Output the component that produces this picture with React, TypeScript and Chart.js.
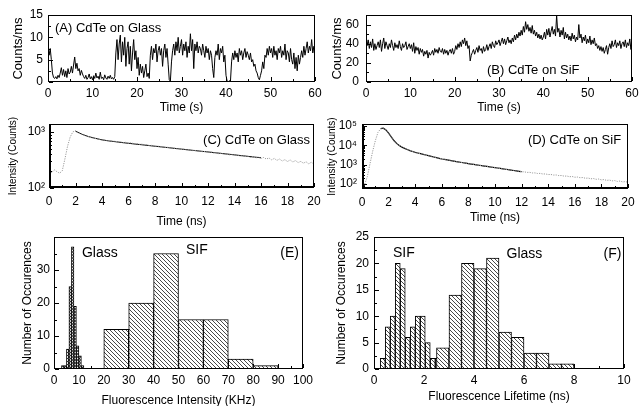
import React, { useEffect, useRef } from 'react';
import { Chart, registerables } from 'chart.js';

Chart.register(...registerables);

const FONT = '"Liberation Sans", Arial, Helvetica, sans-serif';

// ---------- (A) / (B) single-dot intensity traces, one value every 0.25 s ----------
const traceStepS = 0.25;
const glassTraceCounts = [
  8, 6, 7.5, 5, 2, 1.0, 0.8, 1.2, 0.7, 1.5, 1.0, 2.0, 3.2, 1.5, 2.8, 1.2,
  2.5, 1.0, 3.0, 1.8, 2.2, 3.5, 2.0, 3.8, 5.6, 3.0, 4.2, 2.5, 3.0, 1.5, 2.6, 1.8,
  1.2, 0.8, 1.5, 0.6, 1.0, 1.8, 0.7, 1.2, 0.5, 1.4, 0.8, 2.0, 0.9, 1.3, 0.6, 2.2,
  0.8, 1.1, 0.5, 1.6, 0.9, 0.6, 1.3, 0.8, 1.5, 0.7, 1.0, 0.6, 1.2, 6.5, 9.5, 5.0,
  8.5, 10.5, 4.5, 9.0, 6.0, 10.0, 3.5, 7.5, 9.0, 4.0, 8.0, 2.5, 6.5, 9.5, 5.0, 7.0,
  3.0, 5.5, 1.5, 4.0, 2.0, 3.5, 1.0, 2.5, 4.0, 1.2, 2.0, 0.8, 6.0, 8.0, 5.0, 7.5,
  6.5, 8.5, 4.5, 7.0, 8.0, 6.0, 7.5, 3.5, 7.0, 8.5, 5.5, 7.5, 4.0, 0.5, 0.2, 4.5,
  7.0, 8.5, 6.0, 9.0, 7.0, 10.0, 6.5, 8.0, 9.5, 6.0, 8.5, 7.0, 9.0, 5.5, 8.0, 6.5,
  10.8, 7.0, 9.5, 3.0, 8.5, 7.0, 9.0, 6.5, 8.0, 7.5, 6.0, 8.5, 7.0, 5.5, 8.0, 6.5,
  7.5, 5.0, 7.0, 6.0, 3.0, 1.0, 5.5, 7.0, 6.0, 8.5, 5.0, 7.5, 6.5, 8.0, 4.5, 6.0,
  1.5, 0.2, 0.0, 0.3, 0.1, 4.5, 6.5, 5.0, 7.0, 5.5, 6.5, 4.5, 7.5, 6.0, 7.0, 5.0,
  6.5, 7.5, 5.5, 6.8, 6.0, 5.0, 6.5, 4.5, 5.0, 3.5, 4.0, 2.5, 2.0, 1.0, 0.5, 1.5,
  2.5, 4.5, 3.0, 6.0, 5.5, 7.5, 6.0, 8.0, 6.5, 7.5, 5.5, 8.0, 6.0, 7.0, 5.0, 7.5,
  6.5, 8.0, 5.5, 7.0, 6.0, 8.5, 5.0, 7.0, 6.5, 4.5, 7.5, 5.0, 4.0, 6.5, 3.0, 5.5,
  2.5, 6.0, 4.0, 5.5, 7.0, 5.5, 8.0, 6.0, 7.5, 9.0, 6.5, 8.0, 7.0, 9.5, 6.5, 8.0,
  5.0,
];
const sifTraceCounts = [
  50, 38, 44, 35, 42, 36, 45, 33, 40, 34, 38, 42, 36, 44, 32, 40,
  46, 35, 42, 38, 34, 40, 36, 44, 38, 33, 41, 36, 39, 35, 43, 37,
  33, 40, 36, 38, 42, 34, 37, 40, 35, 39, 32, 41, 30, 37, 33, 36,
  29, 35, 31, 34, 27, 32, 29, 33, 25, 31, 28, 30, 33, 28, 35, 31,
  34, 30, 36, 32, 31, 35, 29, 34, 30, 33, 28, 32, 34, 30, 35, 29,
  32, 38, 34, 40, 36, 42, 37, 44, 40, 46, 38, 43, 35, 38, 22, 28,
  31, 34, 29, 33, 36, 31, 38, 33, 35, 30, 37, 32, 34, 39, 33, 37,
  40, 35, 42, 38, 36, 43, 39, 41, 44, 38, 42, 46, 40, 45, 39, 43,
  47, 41, 44, 40, 46, 42, 49, 44, 50, 46, 52, 48, 54, 49, 58, 52,
  63, 55, 60, 53, 57, 51, 59, 50, 54, 48, 52, 46, 50, 45, 49, 44,
  47, 52, 45, 55, 49, 56, 47, 53, 58, 50, 55, 48, 70, 52, 56, 47,
  54, 49, 57, 45, 52, 46, 50, 44, 48, 43, 51, 45, 49, 42, 47, 44,
  60, 46, 50, 41, 47, 43, 49, 40, 45, 41, 48, 39, 44, 40, 46, 38,
  40, 35, 38, 33, 37, 32, 36, 30, 34, 38, 29, 36, 40, 35, 43, 37,
  39, 44, 36, 41, 38, 43, 35, 40, 42, 37, 44, 36, 41, 38, 45, 34,
  40,
];
const traceTimeTicks = [0, 10, 20, 30, 40, 50, 60];
const glassTraceTicks = [0, 5, 10, 15];
const sifTraceTicks = [0, 20, 40, 60];

// ---------- (C) / (D) lifetime decays, raw every 0.2 ns ----------
const decayStepNs = 0.2;
const glassDecayRaw = [
  205, 188, 212, 196, 184, 203, 330, 560, 820, 1010,
  1060, 990, 925, 890, 845, 830, 790, 785, 752, 740,
  715, 722, 700, 705, 684, 690, 668, 672, 650, 658,
  636, 645, 622, 628, 606, 612, 590, 598, 575, 582,
  556, 565, 545, 552, 530, 537, 515, 524, 503, 510,
  490, 498, 478, 486, 466, 474, 455, 463, 446, 452,
  436, 445, 424, 432, 412, 421, 402, 410, 392, 400,
  384, 392, 372, 381, 366, 372, 352, 366, 345, 358,
  338, 352, 330, 345, 320, 338, 312, 330, 305, 322,
  298, 318, 292, 310, 285, 300, 278, 295, 270, 290,
  265,
];
const glassFitStartNs = 2.0;
const glassFitStepNs = 0.5;
const glassFitValues = [
  1040, 915, 830, 775, 728, 698, 675, 652, 632, 612, 595, 577, 560, 544, 528,
  512, 497, 482, 468, 455, 442, 429, 416, 404, 392, 380, 369, 358, 348,
];
const sifDecayRaw = [
  62, 95, 240, 1100, 4800, 17000, 46000, 71000, 75000, 61000,
  41000, 27500, 17000, 12800, 9600, 8100, 6800, 6100, 5200, 4800,
  4250, 4000, 3620, 3420, 3090, 2930, 2650, 2500, 2260, 2130,
  1930, 1860, 1725, 1665, 1545, 1490, 1380, 1335, 1235, 1195,
  1105, 1080, 1005, 985, 915, 895, 832, 815, 758, 742,
  690, 675, 625, 612, 566, 556, 514, 505, 465, 458,
  423, 424, 396, 398, 371, 374, 348, 352, 327, 330,
  306, 310, 288, 292, 270, 274, 253, 258, 237, 243,
  223, 228, 210, 215, 197, 203, 185, 191, 174, 180,
  163, 169, 153, 160, 144, 150, 135, 142, 127, 133,
  120,
];
const sifFitStartNs = 1.4;
const sifFitStepNs = 0.2;
const sifFitValues = [
  72000, 76000, 62000, 42000, 27000, 17500, 12500, 9800, 8000, 6900,
  6000, 5300, 4750, 4300, 3970, 3670, 3390, 3130, 2900, 2680,
  2480, 2290, 2110, 1950, 1845, 1745, 1650, 1560, 1475, 1395,
  1320, 1250, 1183, 1120, 1068, 1019, 972, 927, 885, 844,
  805, 768, 733, 700, 666, 634, 604, 575, 548, 522,
  497, 473, 451, 430,
];
const decayTimeTicks = [0, 2, 4, 6, 8, 10, 12, 14, 16, 18, 20];
const glassDecayTicks = [100, 1000];
const sifDecayTicks = [100, 1000, 10000, 100000];

// ---------- (E) intensity histograms ----------
const eSifBinCenters = [25, 35, 45, 55, 65, 75, 85];
const eSifCounts = [12, 20, 35, 15, 15, 3, 1];
const eGlassBinCenters = [3.5, 4.5, 5.5, 6.5, 7.5, 8.5, 9.5, 10.5, 11.5];
const eGlassCounts = [1, 1, 6, 25, 37, 19, 7, 4, 1];
const eXTicks = [0, 10, 20, 30, 40, 50, 60, 70, 80, 90, 100];
const eYTicks = [0, 10, 20, 30];

// ---------- (F) lifetime histograms ----------
const fSifBinCenters = [0.35, 0.55, 0.75, 0.95, 1.15, 1.35, 1.55, 1.75, 1.95, 2.15, 2.35, 2.55];
const fSifCounts = [2, 8, 10, 20, 19, 6, 8, 10, 10, 5, 2, 2];
const fGlassBinCenters = [2.75, 3.25, 3.75, 4.25, 4.75, 5.25, 5.75, 6.25, 6.75, 7.25, 7.75];
const fGlassCounts = [4, 14, 20, 19, 21, 7, 6, 3, 3, 1, 1];
const fXTicks = [0, 2, 4, 6, 8, 10];
const fYTicks = [0, 5, 10, 15, 20, 25];

// ---------- helpers ----------
const SUP: Record<number, string> = { 1: '\u00B9', 2: '\u00B2', 3: '\u00B3', 4: '\u2074', 5: '\u2075' };

function linMinors(min: number, max: number, step: number, majors: number[]) {
  const out: number[] = [];
  for (let k = 0; min + k * step <= max + 1e-9; k++) {
    const v = Math.round((min + k * step) * 1000) / 1000;
    if (v > min && v < max && !majors.some((m) => Math.abs(m - v) < 1e-9)) out.push(v);
  }
  return out;
}
function logMinors(min: number, max: number) {
  const out: number[] = [];
  for (let e = Math.floor(Math.log10(min)); e <= Math.ceil(Math.log10(max)); e++) {
    for (let m = 2; m <= 9; m++) {
      const v = m * Math.pow(10, e);
      if (v > min && v < max) out.push(v);
    }
  }
  return out;
}
const series = (vals: number[], start: number, step: number) =>
  vals.map((v, i) => ({ x: Math.round((start + i * step) * 1000) / 1000, y: v }));
const bins = (centers: number[], counts: number[]) => centers.map((c, i) => ({ x: c, y: counts[i] }));

type Txt = { text: string; fx: number; fy: number; align: CanvasTextAlign; size: number };
type DecorCfg = {
  xMajor: number[]; xMinor: number[]; yMajor: number[]; yMinor: number[];
  texts: Txt[]; thick?: boolean;
};

function makeDecor(cfg: DecorCfg) {
  return {
    id: 'decor',
    beforeDatasetsDraw(chart: any) {
      const { ctx, chartArea: a, scales } = chart;
      ctx.save();
      ctx.strokeStyle = '#000';
      ctx.lineWidth = 1;
      ctx.beginPath();
      const vx = (v: number, len: number) => {
        const p = Math.round(scales.x.getPixelForValue(v)) + 0.5;
        ctx.moveTo(p, a.bottom - 1);
        ctx.lineTo(p, a.bottom - 1 - len);
      };
      const vy = (v: number, len: number) => {
        const p = Math.round(scales.y.getPixelForValue(v)) + 0.5;
        ctx.moveTo(a.left + 1, p);
        ctx.lineTo(a.left + 1 + len, p);
      };
      cfg.xMajor.forEach((v) => vx(v, 4));
      cfg.xMinor.forEach((v) => vx(v, 2));
      cfg.yMajor.forEach((v) => vy(v, 4));
      cfg.yMinor.forEach((v) => vy(v, 2));
      ctx.stroke();
      ctx.restore();
    },
    afterDatasetsDraw(chart: any) {
      const { ctx, chartArea: a } = chart;
      ctx.save();
      ctx.strokeStyle = '#000';
      ctx.lineWidth = 1;
      ctx.beginPath();
      ctx.moveTo(a.left, a.top + 0.5);
      ctx.lineTo(a.right, a.top + 0.5);
      ctx.moveTo(a.right - 0.5, a.top);
      ctx.lineTo(a.right - 0.5, a.bottom);
      ctx.stroke();
      const w = cfg.thick ? 2 : 1;
      ctx.lineWidth = w;
      ctx.beginPath();
      ctx.moveTo(a.left + w / 2, a.top);
      ctx.lineTo(a.left + w / 2, a.bottom);
      ctx.moveTo(a.left, a.bottom - w / 2);
      ctx.lineTo(a.right, a.bottom - w / 2);
      ctx.stroke();
      ctx.fillStyle = '#000';
      ctx.textBaseline = 'middle';
      for (const t of cfg.texts) {
        ctx.font = `${t.size}px ${FONT}`;
        ctx.textAlign = t.align;
        ctx.fillText(t.text, a.left + t.fx * (a.right - a.left), a.top + t.fy * (a.bottom - a.top));
      }
      ctx.restore();
    },
  };
}

function axisX(o: {
  min: number; max: number; ticks: number[]; pad: number; title: string;
  titleSize: number; titlePad: number; height: number;
}) {
  return {
    type: 'linear', min: o.min, max: o.max, offset: false,
    grid: { display: false, drawTicks: false }, border: { display: false },
    afterBuildTicks: (s: any) => { s.ticks = o.ticks.map((v) => ({ value: v })); },
    afterFit: (s: any) => { s.height = o.height; s.paddingLeft = 0; s.paddingRight = 0; },
    ticks: { autoSkip: false, maxRotation: 0, minRotation: 0, padding: o.pad, color: '#000', font: { family: FONT, size: 12 } },
    title: { display: true, text: o.title, color: '#000', font: { family: FONT, size: o.titleSize }, padding: { top: 0, bottom: o.titlePad } },
  };
}
function axisY(o: {
  min: number; max: number; ticks: number[]; pad: number; title: string;
  titleSize: number; titlePad: number; width: number; log?: boolean;
}) {
  const ax: any = {
    type: o.log ? 'logarithmic' : 'linear', min: o.min, max: o.max,
    grid: { display: false, drawTicks: false }, border: { display: false },
    afterBuildTicks: (s: any) => { s.ticks = o.ticks.map((v) => ({ value: v })); },
    afterFit: (s: any) => { s.width = o.width; s.paddingTop = 0; s.paddingBottom = 0; },
    ticks: { autoSkip: false, padding: o.pad, color: '#000', font: { family: FONT, size: 12 } },
    title: { display: true, text: o.title, color: '#000', font: { family: FONT, size: o.titleSize }, padding: { top: o.titlePad, bottom: 0 } },
  };
  if (o.log) ax.ticks.callback = (v: number) => '10' + SUP[Math.round(Math.log10(v))];
  return ax;
}
function baseOptions(padTop: number, padRight: number, scales: any) {
  return {
    responsive: false, animation: false, events: [],
    layout: { padding: { top: padTop, right: padRight, left: 0, bottom: 0 } },
    plugins: { legend: { display: false }, tooltip: { enabled: false } },
    scales,
  };
}

function makePattern(ctx: CanvasRenderingContext2D, size: number, cross: boolean, lw: number) {
  const c = document.createElement('canvas');
  c.width = size; c.height = size;
  const g = c.getContext('2d')!;
  g.fillStyle = '#fff';
  g.fillRect(0, 0, size, size);
  g.strokeStyle = '#1a1a1a';
  g.lineWidth = lw;
  g.beginPath();
  g.moveTo(-1, -1); g.lineTo(size + 1, size + 1);
  g.moveTo(-1, size - 1); g.lineTo(1, size + 1);
  g.moveTo(size - 1, -1); g.lineTo(size + 1, 1);
  if (cross) {
    g.moveTo(size + 1, -1); g.lineTo(-1, size + 1);
    g.moveTo(1, -1); g.lineTo(-1, 1);
    g.moveTo(size + 1, size - 1); g.lineTo(size - 1, size + 1);
  }
  g.stroke();
  return ctx.createPattern(c, 'repeat')!;
}

type Panel = { left: number; top: number; w: number; h: number; build: (cv: HTMLCanvasElement) => any };

const PANELS: Panel[] = [
  {
    left: 0, top: 0, w: 330, h: 118,
    build: () => ({
      type: 'scatter',
      data: { datasets: [{ data: series(glassTraceCounts, 0, traceStepS), showLine: true, borderColor: '#000', borderWidth: 1, pointRadius: 0 }] },
      options: baseOptions(15, 15, {
        x: axisX({ min: 0, max: 60, ticks: traceTimeTicks, pad: 4, title: 'Time (s)', titleSize: 12, titlePad: 2.8, height: 36 }),
        y: axisY({ min: 0, max: 15, ticks: glassTraceTicks, pad: 5, title: 'Counts/ms', titleSize: 13, titlePad: 10.2, width: 48 }),
      }),
      plugins: [makeDecor({
        xMajor: traceTimeTicks, xMinor: linMinors(0, 60, 5, traceTimeTicks),
        yMajor: glassTraceTicks, yMinor: linMinors(0, 15, 2.5, glassTraceTicks),
        texts: [{ text: '(A) CdTe on Glass', fx: 0.026, fy: 0.2, align: 'left', size: 13 }],
      })],
    }),
  },
  {
    left: 320, top: 0, w: 319, h: 118,
    build: () => ({
      type: 'scatter',
      data: { datasets: [{ data: series(sifTraceCounts, 0, traceStepS), showLine: true, borderColor: '#000', borderWidth: 1, pointRadius: 0 }] },
      options: baseOptions(15, 7, {
        x: axisX({ min: 0, max: 60, ticks: traceTimeTicks, pad: 4, title: 'Time (s)', titleSize: 12, titlePad: 2.8, height: 36 }),
        y: axisY({ min: 0, max: 70, ticks: sifTraceTicks, pad: 7, title: 'Counts/ms', titleSize: 13, titlePad: 9.2, width: 46 }),
      }),
      plugins: [makeDecor({
        xMajor: traceTimeTicks, xMinor: linMinors(0, 60, 5, traceTimeTicks),
        yMajor: sifTraceTicks, yMinor: linMinors(0, 70, 10, sifTraceTicks),
        texts: [{ text: '(B) CdTe on SiF', fx: 0.455, fy: 0.82, align: 'left', size: 13 }],
      })],
    }),
  },
  {
    left: 0, top: 112, w: 330, h: 120,
    build: () => ({
      type: 'scatter',
      data: {
        datasets: [
          { data: series(glassDecayRaw, 0, decayStepNs), showLine: true, borderColor: '#9a9a9a', borderWidth: 1, borderDash: [1.2, 1.2], pointRadius: 0 },
          { data: series(glassFitValues, glassFitStartNs, glassFitStepNs), showLine: true, borderColor: '#000', borderWidth: 1, pointRadius: 0 },
        ],
      },
      options: baseOptions(12, 16, {
        x: axisX({ min: 0, max: 20, ticks: decayTimeTicks, pad: 6, title: 'Time (ns)', titleSize: 12, titlePad: 2.8, height: 44 }),
        y: axisY({ min: 100, max: 1400, ticks: glassDecayTicks, pad: 4, title: 'Intensity (Counts)', titleSize: 10, titlePad: 7, width: 49, log: true }),
      }),
      plugins: [makeDecor({
        xMajor: decayTimeTicks, xMinor: linMinors(0, 20, 1, decayTimeTicks),
        yMajor: glassDecayTicks, yMinor: logMinors(100, 1400),
        texts: [{ text: '(C) CdTe on Glass', fx: 0.985, fy: 0.25, align: 'right', size: 13 }],
        thick: true,
      })],
    }),
  },
  {
    left: 320, top: 112, w: 319, h: 120,
    build: () => ({
      type: 'scatter',
      data: {
        datasets: [
          { data: series(sifDecayRaw, 0, decayStepNs), showLine: true, borderColor: '#9a9a9a', borderWidth: 1, borderDash: [1.2, 1.2], pointRadius: 0 },
          { data: series(sifFitValues, sifFitStartNs, sifFitStepNs), showLine: true, borderColor: '#000', borderWidth: 1.2, pointRadius: 0 },
        ],
      },
      options: baseOptions(12, 11, {
        x: axisX({ min: 0, max: 20, ticks: decayTimeTicks, pad: 6, title: 'Time (ns)', titleSize: 12, titlePad: 6.8, height: 43 }),
        y: axisY({ min: 55, max: 125000, ticks: sifDecayTicks, pad: 5, title: 'Intensity (Counts)', titleSize: 10, titlePad: 6, width: 42, log: true }),
      }),
      plugins: [makeDecor({
        xMajor: decayTimeTicks, xMinor: linMinors(0, 20, 1, decayTimeTicks),
        yMajor: sifDecayTicks, yMinor: logMinors(55, 125000),
        texts: [{ text: '(D) CdTe on SiF', fx: 0.974, fy: 0.25, align: 'right', size: 13 }],
        thick: true,
      })],
    }),
  },
  {
    left: 0, top: 228, w: 330, h: 178,
    build: (cv) => {
      const ctx = cv.getContext('2d')!;
      return {
        type: 'bar',
        data: {
          datasets: [
            { data: bins(eSifBinCenters, eSifCounts), xAxisID: 'x', backgroundColor: makePattern(ctx, 4, false, 0.8), borderColor: '#000', borderWidth: 1, barPercentage: 1, categoryPercentage: 1, grouped: false },
            { data: bins(eGlassBinCenters, eGlassCounts), xAxisID: 'x2', backgroundColor: makePattern(ctx, 3, true, 0.7), borderColor: '#000', borderWidth: 1, barPercentage: 1, categoryPercentage: 1, grouped: false },
          ],
        },
        options: baseOptions(9, 27, {
          x: axisX({ min: 0, max: 100, ticks: eXTicks, pad: 4, title: 'Fluorescence Intensity (KHz)', titleSize: 12, titlePad: -2.2, height: 37 }),
          x2: { type: 'linear', display: false, min: 0, max: 100, offset: false, ticks: { stepSize: 10 } },
          y: axisY({ min: 0, max: 40, ticks: eYTicks, pad: 4, title: 'Number of Occurences', titleSize: 12, titlePad: 20.8, width: 54 }),
        }),
        plugins: [makeDecor({
          xMajor: eXTicks, xMinor: linMinors(0, 100, 5, eXTicks),
          yMajor: eYTicks, yMinor: linMinors(0, 40, 5, eYTicks),
          texts: [
            { text: 'Glass', fx: 0.112, fy: 0.12, align: 'left', size: 14 },
            { text: 'SIF', fx: 0.53, fy: 0.1, align: 'left', size: 14 },
            { text: '(E)', fx: 0.984, fy: 0.12, align: 'right', size: 14 },
          ],
        })],
      };
    },
  },
  {
    left: 320, top: 228, w: 319, h: 178,
    build: (cv) => {
      const ctx = cv.getContext('2d')!;
      return {
        type: 'bar',
        data: {
          datasets: [
            { data: bins(fGlassBinCenters, fGlassCounts), xAxisID: 'x2', backgroundColor: makePattern(ctx, 4, false, 0.8), borderColor: '#000', borderWidth: 1, barPercentage: 1, categoryPercentage: 1, grouped: false },
            { data: bins(fSifBinCenters, fSifCounts), xAxisID: 'x', backgroundColor: makePattern(ctx, 4, false, 0.8), borderColor: '#000', borderWidth: 1, barPercentage: 1, categoryPercentage: 1, grouped: false },
          ],
        },
        options: baseOptions(9, 15, {
          x: axisX({ min: 0, max: 10, ticks: fXTicks, pad: 4, title: 'Fluorescence Lifetime (ns)', titleSize: 12, titlePad: 1.8, height: 37 }),
          x2: { type: 'linear', display: false, min: 0, max: 10, offset: false, ticks: { stepSize: 1 } },
          y: axisY({ min: 0, max: 25, ticks: fYTicks, pad: 5, title: 'Number of Occurences', titleSize: 12, titlePad: 14.8, width: 54 }),
        }),
        plugins: [makeDecor({
          xMajor: fXTicks, xMinor: linMinors(0, 10, 1, fXTicks),
          yMajor: fYTicks, yMinor: linMinors(0, 25, 2.5, fYTicks),
          texts: [
            { text: 'SIF', fx: 0.076, fy: 0.12, align: 'left', size: 14 },
            { text: 'Glass', fx: 0.53, fy: 0.13, align: 'left', size: 14 },
            { text: '(F)', fx: 0.99, fy: 0.13, align: 'right', size: 14 },
          ],
        })],
      };
    },
  },
];

export default function App() {
  const canvases = useRef<(HTMLCanvasElement | null)[]>([]);
  useEffect(() => {
    const charts = PANELS.map((p, i) => {
      const cv = canvases.current[i]!;
      return new Chart(cv, p.build(cv));
    });
    return () => charts.forEach((c) => c.destroy());
  }, []);
  return (
    <div style={{ position: 'absolute', left: 0, top: 0, width: 639, height: 406, background: '#fff', overflow: 'hidden' }}>
      {PANELS.map((p, i) => (
        <canvas
          key={i}
          ref={(el) => { canvases.current[i] = el; }}
          width={p.w}
          height={p.h}
          style={{ position: 'absolute', left: p.left, top: p.top, width: p.w, height: p.h }}
        />
      ))}
    </div>
  );
}
